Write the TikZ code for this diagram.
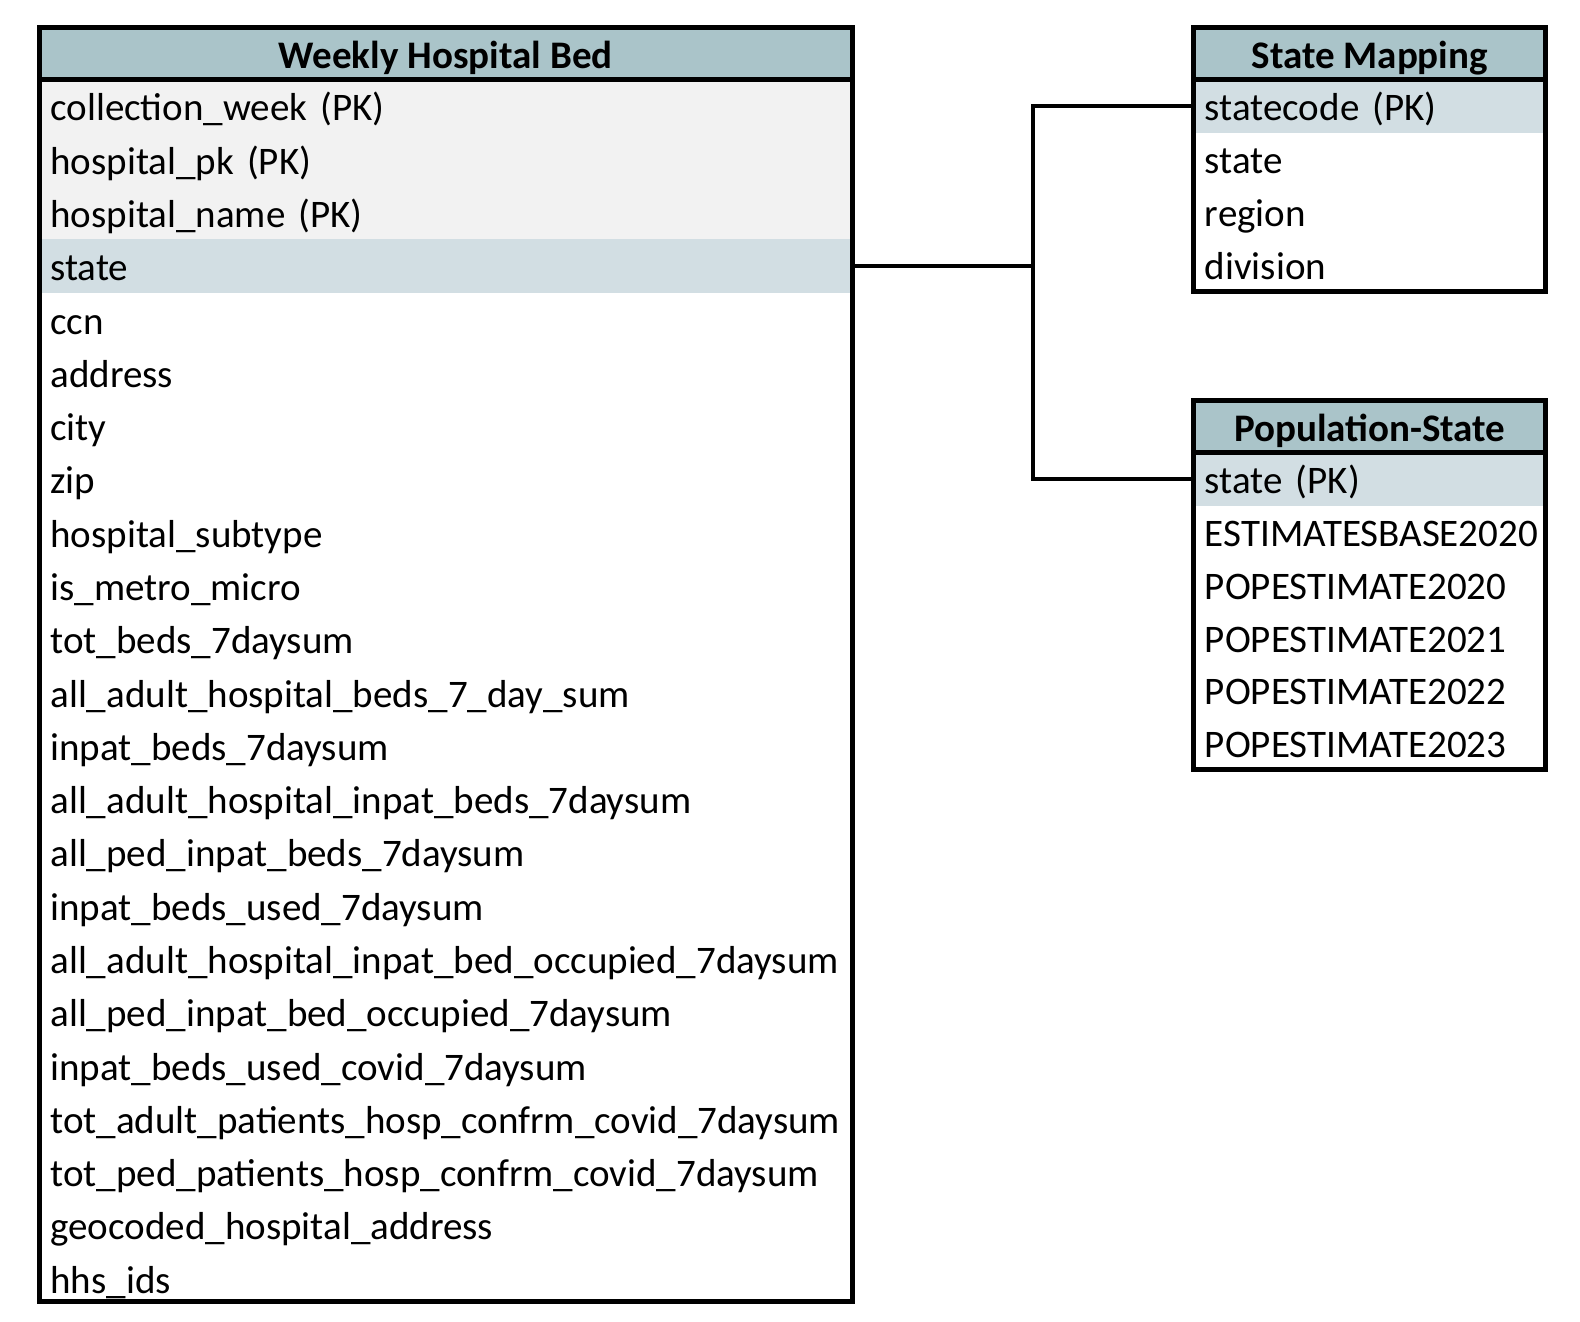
\documentclass[tikz,border=0pt]{standalone}
\usepackage{fontspec}
\setmainfont{Carlito}
\definecolor{hdrfill}{RGB}{170,196,201}
\definecolor{keyfill}{RGB}{210,222,227}
\definecolor{pkfill}{RGB}{242,242,242}
\tikzset{
  frame/.style={line width=5pt},
  hdr/.style={draw, line width=4.5pt, fill=hdrfill, inner sep=0pt, font=\fontsize{38.7}{46}\selectfont\bfseries, text height=32pt, text depth=3pt},
  row/.style={inner xsep=11pt, inner ysep=0pt, align=left, font=\fontsize{38.7}{46}\selectfont, text height=32pt, text depth=3pt},
  mainrow/.style={row, minimum width=806pt, text width=784pt, minimum height=52.85pt},
  siderow/.style={row, minimum width=349pt, text width=327pt},
  conn/.style={line width=4pt},
}
\begin{document}
\begin{tikzpicture}[x=1pt,y=-1pt]
\useasboundingbox (0,0) rectangle (1580,1322);
\fill[white] (0,0) rectangle (1580,1322);
\begin{scope}[scale=1.0083, transform shape]
% main table rows
\foreach \t [count=\i from 0] in {collection\_week (PK),hospital\_pk (PK),hospital\_name (PK),state,ccn,address,city,zip,hospital\_subtype,is\_metro\_micro,tot\_beds\_7daysum,all\_adult\_hospital\_beds\_7\_day\_sum,inpat\_beds\_7daysum,all\_adult\_hospital\_inpat\_beds\_7daysum,all\_ped\_inpat\_beds\_7daysum,inpat\_beds\_used\_7daysum,all\_adult\_hospital\_inpat\_bed\_occupied\_7daysum,all\_ped\_inpat\_bed\_occupied\_7daysum,inpat\_beds\_used\_covid\_7daysum,tot\_adult\_patients\_hosp\_confrm\_covid\_7daysum,tot\_ped\_patients\_hosp\_confrm\_covid\_7daysum,geocoded\_hospital\_address,hhs\_ids}{
  \ifnum\i<3 \def\rf{pkfill}\else\ifnum\i=3 \def\rf{keyfill}\else\def\rf{white}\fi\fi
  \node[mainrow, fill=\rf] (w\i) at (442,{105.4+52.85*\i}) {\t};
}
\node[hdr, minimum width=806pt, minimum height=52pt] (wh) at (442,53) {Weekly Hospital Bed};
\draw[frame] (39,27) rectangle (845,1291);
% state mapping
\foreach \t [count=\i from 0] in {statecode (PK),state,region,division}{
  \ifnum\i=0 \def\rf{keyfill}\else\def\rf{white}\fi
  \node[siderow, minimum height=52.5pt, fill=\rf] (s\i) at (1358.5,{105.25+52.5*\i}) {\t};
}
\node[hdr, minimum width=349pt, minimum height=52pt] (sh) at (1358.5,53) {State Mapping};
\draw[frame] (1184,27) rectangle (1533,289);
% population-state
\foreach \t [count=\i from 0] in {state (PK),ESTIMATESBASE2020,POPESTIMATE2020,POPESTIMATE2021,POPESTIMATE2022,POPESTIMATE2023}{
  \ifnum\i=0 \def\rf{keyfill}\else\def\rf{white}\fi
  \node[siderow, minimum height=52.33pt, fill=\rf] (p\i) at (1358.5,{475.2+52.33*\i}) {\t};
}
\node[hdr, minimum width=349pt, minimum height=52pt] (ph) at (1358.5,423) {Population-State};
\draw[frame] (1184,397) rectangle (1533,763);
% connectors
\coordinate (j) at (1024,0);
\draw[conn] (w3.east) -- (w3.east -| j);
\draw[conn] (s0.west) -- (s0.west -| j) -- (p0.west -| j) -- (p0.west);
\end{scope}
\end{tikzpicture}
\end{document}
